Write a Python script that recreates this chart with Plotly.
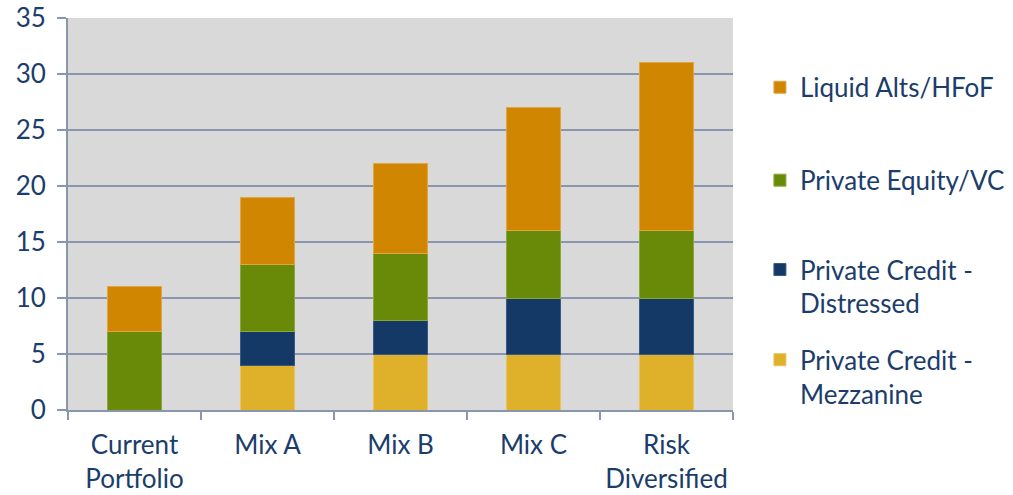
import plotly.graph_objects as go

categories = ["Current<br>Portfolio", "Mix A", "Mix B", "Mix C", "Risk<br>Diversified"]
mezzanine = [0, 4, 5, 5, 5]
distressed = [0, 3, 3, 5, 5]
private_equity = [7, 6, 6, 6, 6]
liquid_alts = [4, 6, 8, 11, 15]

series = [
    ("Private Credit -<br>Mezzanine", mezzanine, "#dfb02a", "#e8c45e", "legend4"),
    ("Private Credit -<br>Distressed", distressed, "#143966", "#3a5a85", "legend3"),
    ("Private Equity/VC", private_equity, "#688a08", "#8aa83a", "legend2"),
    ("Liquid Alts/HFoF", liquid_alts, "#d08600", "#e0a545", "legend"),
]

TXT = "#1b3d6b"
GRID = "#8a96ae"
FONT = "Lato"
FS = 26

fig = go.Figure()
for name, vals, col, edge, leg in series:
    fig.add_trace(go.Bar(
        x=categories, y=vals, name=name,
        marker=dict(color=col, line=dict(color=edge, width=1)),
        legend=leg, showlegend=True,
    ))

def leg(y):
    return dict(x=1.0405, y=y, xanchor="left", yanchor="top", valign="top",
                font=dict(family=FONT, size=FS, color=TXT),
                bgcolor="rgba(0,0,0,0)", itemwidth=30, visible=True)

fig.update_layout(
    width=1013, height=495,
    margin=dict(l=68, r=280, t=18, b=85, autoexpand=False),
    barmode="stack", bargap=0.6, showlegend=True,
    plot_bgcolor="#d9d9d9", paper_bgcolor="white",
    font=dict(family=FONT, size=FS, color=TXT),
    legend=leg(0.883),
    legend2=leg(0.646),
    legend3=leg(0.418),
    legend4=leg(0.188),
    xaxis=dict(showline=True, linecolor=GRID, linewidth=2, ticks="outside",
               tickson="boundaries", ticklen=8, tickcolor=GRID, tickwidth=2,
               ticklabelstandoff=11, automargin=False,
               tickfont=dict(family=FONT, size=FS, color=TXT), showgrid=False),
    yaxis=dict(range=[0, 35], dtick=5, showline=True, linecolor=GRID, linewidth=2,
               ticks="outside", ticklen=9, tickcolor=GRID, tickwidth=2,
               gridcolor=GRID, gridwidth=2, zeroline=False, automargin=False,
               ticklabelstandoff=6,
               tickfont=dict(family=FONT, size=FS, color=TXT)),
)
fig.write_html("out.html")
